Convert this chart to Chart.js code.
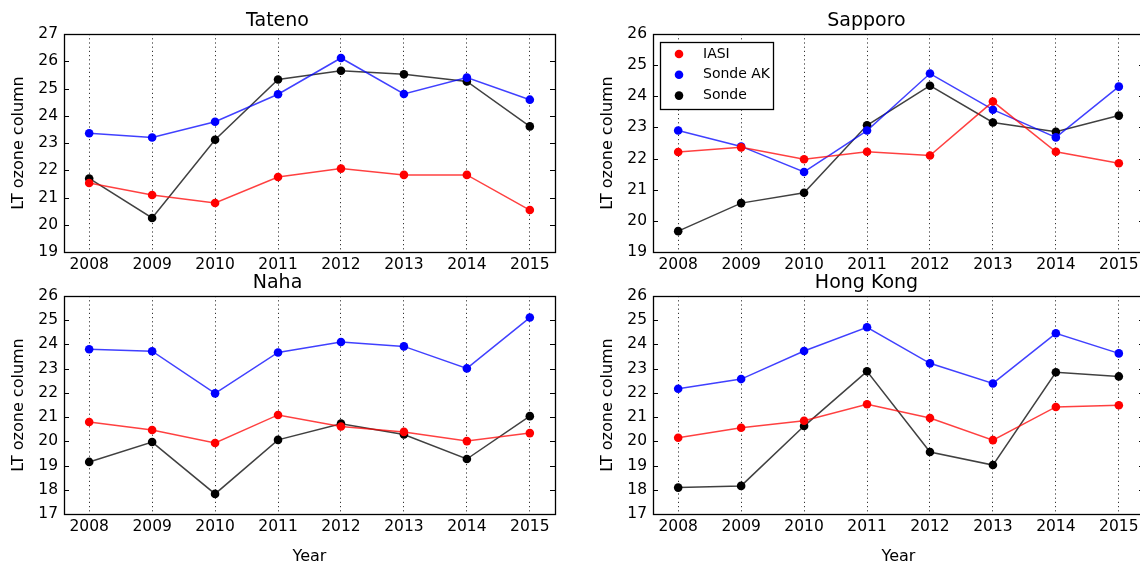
<!DOCTYPE html>
<html>
<head>
<meta charset="utf-8">
<script src="https://cdn.jsdelivr.net/npm/chart.js@4.4.1/dist/chart.umd.min.js"></script>
<style>
  html, body { margin: 0; padding: 0; background: #fff; overflow: hidden; width: 1140px; height: 562px; }
  .panel { position: absolute; }
  .panel canvas { display: block; }
</style>
</head>
<body>
<div class="panel" style="left:0;top:0"><canvas id="tateno" width="570" height="280"></canvas></div>
<div class="panel" style="left:589px;top:0"><canvas id="sapporo" width="570" height="280"></canvas></div>
<div class="panel" style="left:0;top:262px"><canvas id="naha" width="570" height="310"></canvas></div>
<div class="panel" style="left:589px;top:262px"><canvas id="hongkong" width="570" height="310"></canvas></div>
<script>
// Data
const years = [2008, 2009, 2010, 2011, 2012, 2013, 2014, 2015];
const seriesNames = ['IASI', 'Sonde AK', 'Sonde'];

const tatenoIasi    = [21.53, 21.09, 20.80, 21.75, 22.06, 21.83, 21.83, 20.54];
const tatenoSondeAK = [23.36, 23.20, 23.78, 24.79, 26.12, 24.80, 25.40, 24.59];
const tatenoSonde   = [21.70, 20.25, 23.12, 25.33, 25.65, 25.52, 25.26, 23.61];
const tatenoRange   = [19, 27];

const sapporoIasi    = [22.21, 22.36, 21.98, 22.22, 22.10, 23.83, 22.22, 21.85];
const sapporoSondeAK = [22.90, 22.39, 21.57, 22.90, 24.73, 23.57, 22.68, 24.31];
const sapporoSonde   = [19.67, 20.57, 20.90, 23.07, 24.34, 23.16, 22.86, 23.38];
const sapporoRange   = [19, 26];

const nahaIasi    = [20.80, 20.47, 19.93, 21.09, 20.61, 20.39, 20.01, 20.34];
const nahaSondeAK = [23.80, 23.72, 21.98, 23.67, 24.10, 23.92, 23.01, 25.11];
const nahaSonde   = [19.15, 19.97, 17.83, 20.06, 20.73, 20.28, 19.27, 21.04];
const nahaRange   = [17, 26];

const hongkongIasi    = [20.15, 20.56, 20.85, 21.53, 20.96, 20.05, 21.42, 21.49];
const hongkongSondeAK = [22.17, 22.57, 23.73, 24.71, 23.22, 22.39, 24.46, 23.63];
const hongkongSonde   = [18.09, 18.16, 20.63, 22.89, 19.56, 19.02, 22.85, 22.68];
const hongkongRange   = [17, 26];

const FONT = '"DejaVu Sans", sans-serif';
const lineColors  = ['rgba(255,0,0,0.75)', 'rgba(0,0,255,0.75)', 'rgba(0,0,0,0.75)'];
const pointColors = ['#ff0000', '#0000ff', '#000000'];

// Box around plot area plus inward y ticks on both sides
const framePlugin = {
  id: 'frame',
  afterDraw(chart) {
    const ctx = chart.ctx, a = chart.chartArea, y = chart.scales.y;
    ctx.save();
    ctx.strokeStyle = '#000';
    ctx.lineWidth = 1;
    ctx.beginPath();
    y.ticks.forEach(t => {
      const py = Math.round(y.getPixelForValue(t.value)) + 0.5;
      ctx.moveTo(a.left, py); ctx.lineTo(a.left + 5, py);
      ctx.moveTo(a.right, py); ctx.lineTo(a.right - 5, py);
    });
    ctx.stroke();
    ctx.lineWidth = 1.3;
    ctx.strokeRect(Math.round(a.left) + 0.5, Math.round(a.top) + 0.5,
                   Math.round(a.right - a.left), Math.round(a.bottom - a.top));
    ctx.restore();
  }
};

// matplotlib-like legend box inside the plot area (upper left)
const boxLegendPlugin = {
  id: 'boxLegend',
  afterDraw(chart, args, opts) {
    if (!opts.show) return;
    const ctx = chart.ctx, a = chart.chartArea;
    const x = Math.round(a.left + 7) + 0.5, y = Math.round(a.top + 8) + 0.5;
    ctx.save();
    ctx.fillStyle = '#fff';
    ctx.fillRect(x, y, 113, 67);
    ctx.strokeStyle = '#000';
    ctx.lineWidth = 1.3;
    ctx.strokeRect(x, y, 113, 67);
    ctx.font = '14px ' + FONT;
    ctx.textBaseline = 'middle';
    chart.data.datasets.forEach((ds, i) => {
      const cy = a.top + 20 + i * 20.8;
      ctx.fillStyle = ds.pointBackgroundColor;
      ctx.beginPath();
      ctx.arc(a.left + 26, cy, 4.3, 0, Math.PI * 2);
      ctx.fill();
      ctx.fillStyle = '#000';
      ctx.fillText(ds.label, a.left + 50, cy);
    });
    ctx.restore();
  }
};

function makeChart(id, title, series, range, opts) {
  const canvas = document.getElementById(id);
  const xHeight = canvas.height - 252;
  new Chart(canvas, {
    type: 'line',
    data: {
      datasets: series.map((vals, i) => ({
        label: seriesNames[i],
        data: years.map((yr, j) => ({ x: yr, y: vals[j] })),
        borderColor: lineColors[i],
        backgroundColor: pointColors[i],
        pointBackgroundColor: pointColors[i],
        pointBorderWidth: 0,
        pointRadius: 4.3,
        borderWidth: 1.5,
        tension: 0,
        fill: false
      }))
    },
    options: {
      responsive: false,
      animation: false,
      devicePixelRatio: 1,
      layout: { padding: { left: 0, right: 15, top: 0, bottom: 0 } },
      plugins: {
        legend: { display: false },
        tooltip: { enabled: false },
        title: {
          display: true,
          text: title,
          color: '#000',
          font: { family: FONT, size: 19, weight: 'normal' },
          padding: { top: 9.3, bottom: 1.9 }
        },
        boxLegend: { show: !!opts.legend }
      },
      scales: {
        x: {
          type: 'linear',
          min: 2007.6,
          max: 2015.4,
          afterBuildTicks: s => { s.ticks = years.map(v => ({ value: v })); },
          afterFit: s => { s.height = xHeight; },
          border: { display: false, dash: [1.2, 3] },
          grid: { color: '#000', lineWidth: 0.8, drawTicks: false },
          ticks: {
            padding: 4,
            color: '#000',
            font: { family: FONT, size: 15.5 },
            maxRotation: 0,
            callback: v => String(v)
          },
          title: {
            display: !!opts.xTitle,
            text: 'Year',
            color: '#000',
            font: { family: FONT, size: 16 },
            padding: { top: 0, bottom: 6 }
          }
        },
        y: {
          min: range[0],
          max: range[1],
          afterFit: s => { s.width = 64; },
          border: { display: false },
          grid: { display: false, drawTicks: false },
          ticks: {
            stepSize: 1,
            padding: 6,
            color: '#000',
            font: { family: FONT, size: 15.5 }
          },
          title: {
            display: true,
            text: 'LT ozone column',
            color: '#000',
            font: { family: FONT, size: 16 },
            padding: { top: 9, bottom: 0 }
          }
        }
      }
    },
    plugins: [framePlugin, boxLegendPlugin]
  });
}

makeChart('tateno', 'Tateno', [tatenoIasi, tatenoSondeAK, tatenoSonde], tatenoRange, {});
makeChart('sapporo', 'Sapporo', [sapporoIasi, sapporoSondeAK, sapporoSonde], sapporoRange, { legend: true });
makeChart('naha', 'Naha', [nahaIasi, nahaSondeAK, nahaSonde], nahaRange, { xTitle: true });
makeChart('hongkong', 'Hong Kong', [hongkongIasi, hongkongSondeAK, hongkongSonde], hongkongRange, { xTitle: true });
</script>
</body>
</html>
